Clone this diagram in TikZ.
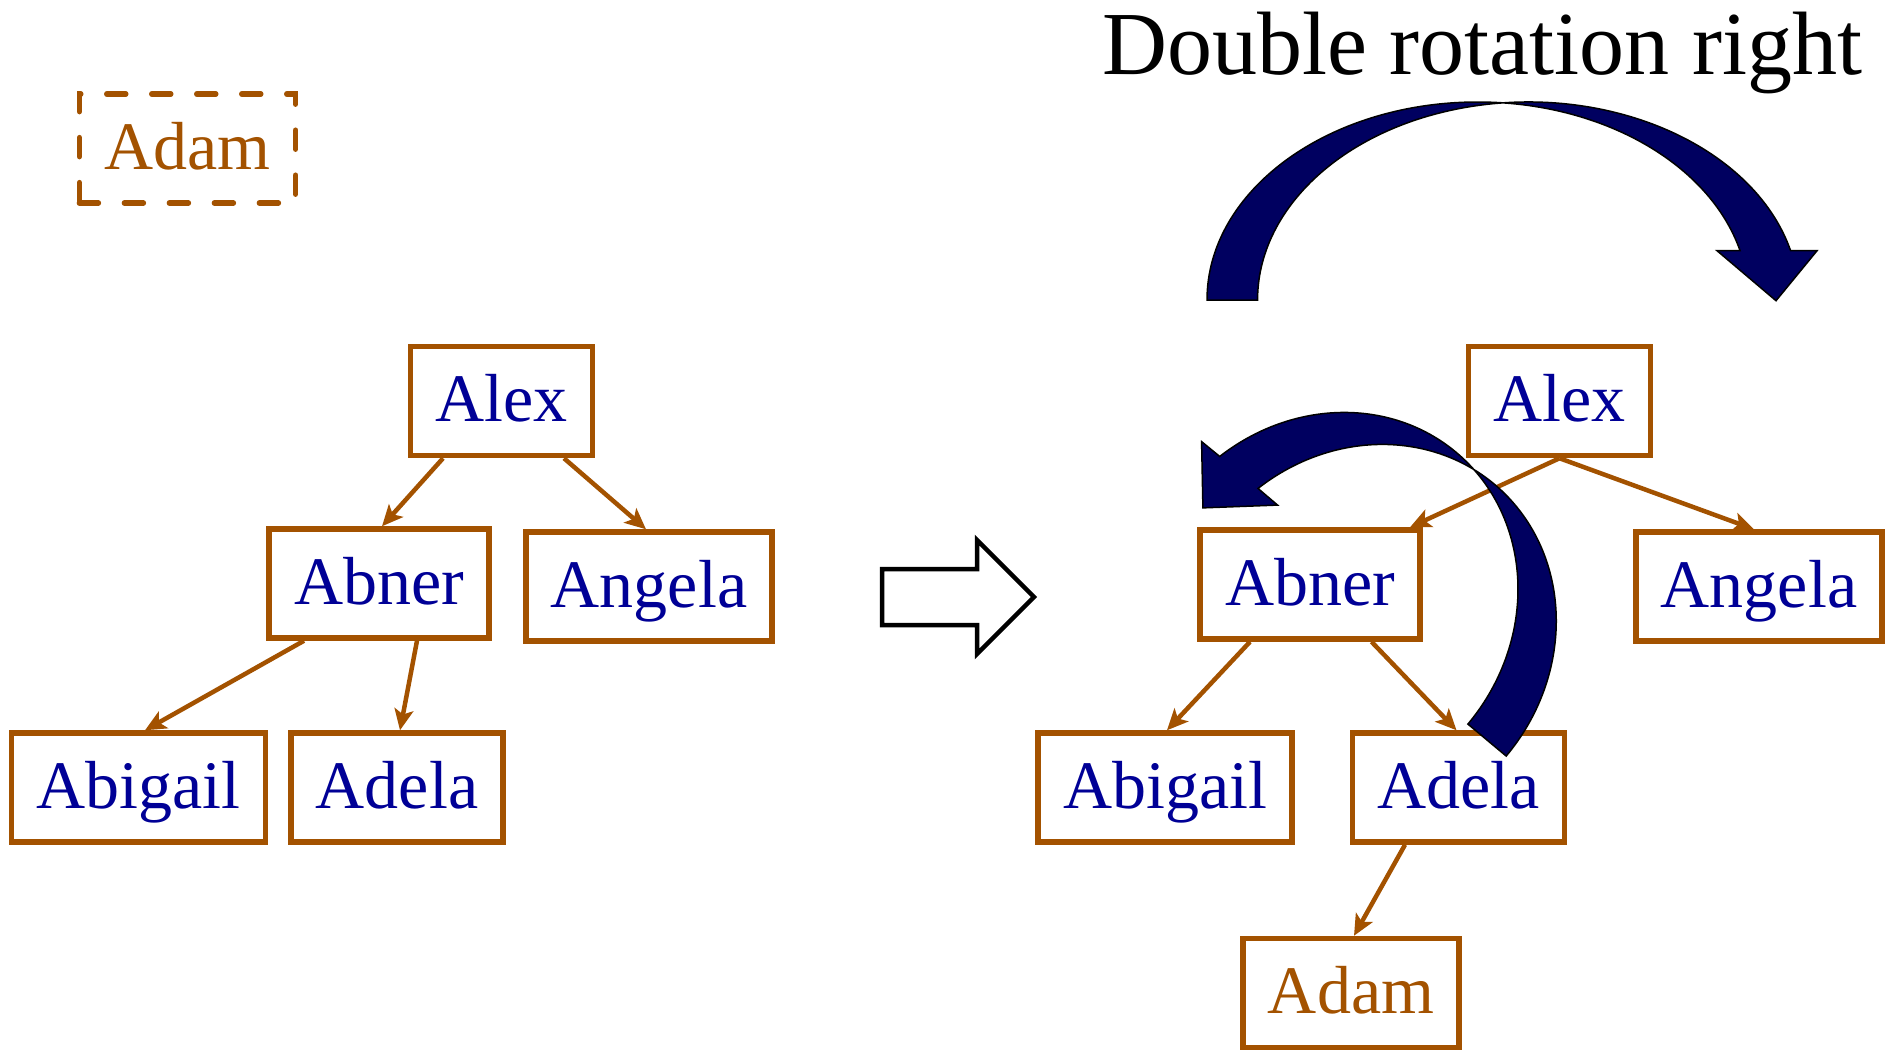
\documentclass[tikz,border=0pt]{standalone}
\usepackage{fontspec}
\setmainfont{Liberation Serif}
\usetikzlibrary{arrows.meta}

\definecolor{boxbrown}{RGB}{163,82,0}
\definecolor{nameblue}{RGB}{0,0,150}
\definecolor{turnnavy}{RGB}{0,0,96}

\tikzset{
  namebox/.style={draw=boxbrown, line width=5.5pt, text=nameblue,
    font=\fontsize{68}{80}\selectfont, inner xsep=25pt, inner ysep=0pt,
    minimum height=109pt, text height=54pt, text depth=13pt},
  newbox/.style={namebox, text=boxbrown},
  link/.style={draw=boxbrown, line width=4.5pt,
    -{Stealth[length=21pt, width=19pt, inset=5pt]}},
  turn/.style={fill=turnnavy, draw=black, line width=1.5pt, line join=miter},
}

\begin{document}
\begin{tikzpicture}[x=1pt, y=1pt]
  \useasboundingbox (0,0) rectangle (1894,-1050);

  \node[anchor=base west, inner sep=0pt, font=\fontsize{90}{100}\selectfont]
    (title) at (1102,-74) {Double rotation right};
  \node[newbox, dash pattern=on 19pt off 26pt, line cap=round]
    (adamIn) at (187.5,-148.5) {Adam};

  % tree before the insert is fixed
  \node[namebox] (alexL)    at (501.5,-401)   {Alex};
  \node[namebox] (abnerL)   at (379,-583.5)   {Abner};
  \node[namebox] (angelaL)  at (649,-586.5)   {Angela};
  \node[namebox] (abigailL) at (138.5,-787.5) {Abigail};
  \node[namebox] (adelaL)   at (397,-787.5)   {Adela};
  \draw[link] ([xshift=-58.5pt]alexL.south) -- ([xshift=3pt]abnerL.north);
  \draw[link] ([xshift=62.5pt]alexL.south) -- ([xshift=-3pt]angelaL.north);
  \draw[link] ([xshift=-75pt]abnerL.south) -- ([xshift=6.5pt]abigailL.north);
  \draw[link] ([xshift=38pt]abnerL.south) -- ([xshift=3pt]adelaL.north);

  % hollow arrow
  \draw[line width=4.5pt] (882,-569) -- (977,-569) -- (977,-540) -- (1034,-597)
    -- (977,-654) -- (977,-625) -- (882,-625) -- cycle;

  % tree after
  \node[namebox] (alexR)    at (1559.5,-401)  {Alex};
  \node[namebox] (abnerR)   at (1310,-584.5)  {Abner};
  \node[namebox] (angelaR)  at (1759,-586.5)  {Angela};
  \node[namebox] (abigailR) at (1165,-787.5)  {Abigail};
  \node[namebox] (adelaR)   at (1458.5,-787.5) {Adela};
  \node[newbox]  (adamR)    at (1351,-993)    {Adam};
  \draw[link] (alexR.south) -- ([xshift=100pt]abnerR.north);
  \draw[link] (alexR.south) -- ([xshift=-5pt]angelaR.north);
  \draw[link] ([xshift=-60pt]abnerR.south) -- ([xshift=2pt]abigailR.north);
  \draw[link] ([xshift=61.5pt]abnerR.south) -- ([xshift=-2pt]adelaR.north);
  \draw[link] ([xshift=-53.5pt]adelaR.south) -- ([xshift=3pt]adamR.north);

  % rotation arrows
  \draw[turn] (1207,-300) arc[start angle=180, end angle=14.42, x radius=270.8, y radius=198]
    -- (1717,-250.7) -- (1776,-300.7) -- (1817,-250.7) -- (1790.6,-250.7)
    arc[start angle=14.42, end angle=180, x radius=270.8, y radius=198] -- cycle;
  \begin{scope}[shift={(1220,-457)}, rotate=-39.88]
    \draw[turn] (361.5,-46) arc[start angle=0, end angle=166.7, x radius=183.5, y radius=201]
      -- (-24,0) -- (19.5,-50) -- (75,0) -- (49.3,0.24)
      arc[start angle=166.7, end angle=0, x radius=183.5, y radius=201] -- cycle;
  \end{scope}
\end{tikzpicture}
\end{document}
